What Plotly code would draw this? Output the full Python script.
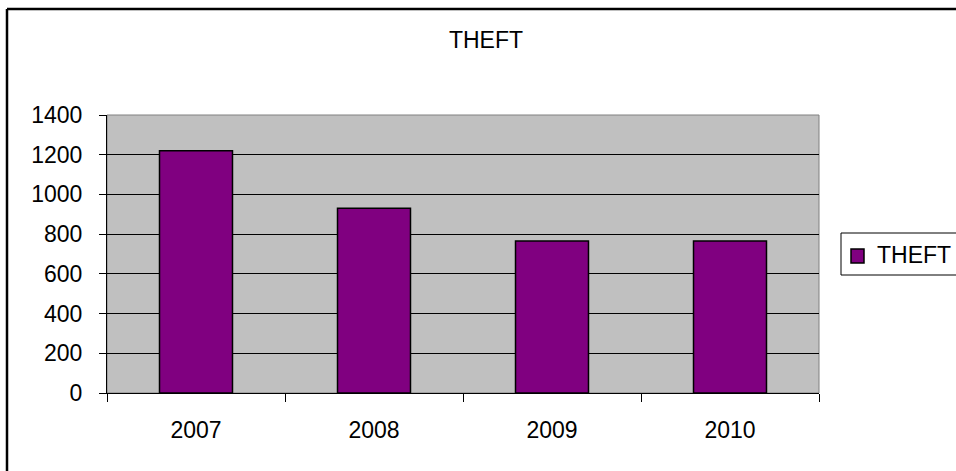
import plotly.graph_objects as go

# Yearly theft counts
years = ["2007", "2008", "2009", "2010"]
theft = [1220, 930, 765, 765]
y_ticks = [0, 200, 400, 600, 800, 1000, 1200, 1400]
series_name = "THEFT"

W, H = 956, 471
L, R, T, B = 107, 137, 115, 78
pw, ph = W - L - R, H - T - B


def px_x(x):
    return (x - L) / pw


def px_y(y):
    return (H - B - y) / ph


FONT = "Liberation Sans, Arial, sans-serif"
BAR_COLOR = "#800080"
FS = 23

fig = go.Figure()
fig.add_trace(go.Bar(
    x=years, y=theft, name=series_name,
    marker=dict(color=BAR_COLOR, line=dict(color="#000000", width=1.5)),
))

fig.update_layout(
    width=W, height=H,
    margin=dict(l=L, r=R, t=T, b=B, pad=0, autoexpand=False),
    paper_bgcolor="white",
    plot_bgcolor="#C0C0C0",
    font=dict(family=FONT, size=FS, color="black"),
    bargap=0.59,
    showlegend=False,
    title=dict(text=series_name, x=486 / W, xref="container", xanchor="center",
               y=1 - 39.5 / H, yref="container", yanchor="middle",
               font=dict(family=FONT, size=FS, color="black")),
    xaxis=dict(type="category", showline=True, linecolor="black", linewidth=1,
               ticks="outside", tickson="boundaries", ticklen=8, tickcolor="black",
               showgrid=False, zeroline=False, ticklabelstandoff=16,
               tickfont=dict(family=FONT, size=FS, color="black")),
    yaxis=dict(range=[0, 1400], tickvals=y_ticks, showline=True, linecolor="black",
               linewidth=1, ticks="outside", ticklen=7, tickcolor="black",
               showgrid=True, gridcolor="black", gridwidth=1, zeroline=False,
               ticklabelstandoff=12,
               tickfont=dict(family=FONT, size=FS, color="black")),
    shapes=[
        # grey frame around the plotting area
        dict(type="rect", xref="paper", yref="paper", x0=0, x1=1, y0=0, y1=1,
             line=dict(color="#808080", width=1), layer="below"),
        # outer chart border
        dict(type="line", xref="paper", yref="paper",
             x0=px_x(7), x1=px_x(980), y0=px_y(9), y1=px_y(9),
             line=dict(color="black", width=2.5)),
        dict(type="line", xref="paper", yref="paper",
             x0=px_x(7), x1=px_x(7), y0=px_y(9), y1=px_y(500),
             line=dict(color="black", width=2.5)),
        # legend box and swatch
        dict(type="rect", xref="paper", yref="paper",
             x0=px_x(841), x1=px_x(990), y0=px_y(275), y1=px_y(233),
             line=dict(color="black", width=1), fillcolor="white"),
        dict(type="rect", xref="paper", yref="paper",
             x0=px_x(851), x1=px_x(864), y0=px_y(263), y1=px_y(249),
             line=dict(color="black", width=1.5), fillcolor=BAR_COLOR),
    ],
    annotations=[
        dict(text=series_name, xref="paper", yref="paper", x=px_x(875), y=px_y(254.5),
             xanchor="left", yanchor="middle", showarrow=False,
             font=dict(family=FONT, size=FS, color="black")),
    ],
)

fig.write_html("out.html")
